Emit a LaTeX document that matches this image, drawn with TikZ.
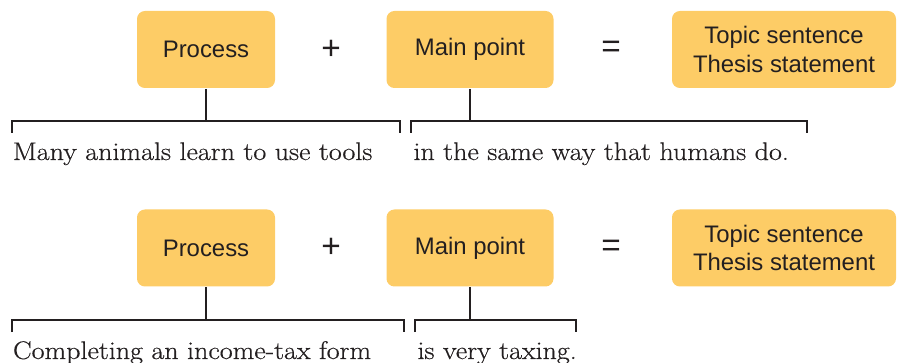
\documentclass[tikz,border=0pt]{standalone}
\usepackage{fontspec}
\setmainfont{Latin Modern Roman}[FakeStretch=1.10,FakeBold=0.5]
\setsansfont{Liberation Sans}
\usepackage{xcolor}
\usetikzlibrary{positioning}
\definecolor{boxfill}{RGB}{253,204,102}
\definecolor{ink}{RGB}{35,31,32}
\begin{document}
\begin{tikzpicture}[line width=1.1pt,draw=ink,
  block/.style={fill=boxfill,rounded corners=4.5pt,minimum height=1.54cm,inner sep=0pt,
    align=center,text=ink,font=\sffamily\fontsize{13.6}{16}\selectfont},
  sign/.style={text=ink,font=\sffamily\fontsize{19}{20}\selectfont},
  sent/.style={anchor=base west,inner sep=0pt,text=ink,font=\fontsize{14.5}{16}\selectfont}]
  \useasboundingbox (0,0) rectangle (18,7.24);
  \foreach \n/\y/\yb/\xa/\xb/\xc/\xd/\la/\lb in {
      1/6.25/4.82/0.24/8.00/8.22/16.14/{Many animals learn to use tools}/{in the same way that humans do.},
      2/2.28/0.84/0.24/8.08/8.30/11.52/{Completing an income-tax form}/{is very taxing.}} {
    % Boxes and signs
    \node[block,minimum width=2.76cm] (proc\n) at (4.12,\y) {Process};
    \node[block,minimum width=3.34cm] (main\n) at (9.40,\y) {Main point};
    \node[block,minimum width=4.48cm] (topic\n) at (15.68,\y) {Topic sentence\\Thesis statement};
    \node[sign] (plus\n) at (6.62,\y) {+};
    \node[sign] (eq\n) at (12.22,\y) {=};
    % Brackets under the sentence
    \coordinate (pa\n) at (\xa,\yb);
    \coordinate (pb\n) at (\xb,\yb);
    \coordinate (ma\n) at (\xc,\yb);
    \coordinate (mb\n) at (\xd,\yb);
    \draw ([yshift=-0.24cm]pa\n) -- (pa\n) -- (pb\n) -- ([yshift=-0.24cm]pb\n);
    \draw ([yshift=-0.24cm]ma\n) -- (ma\n) -- (mb\n) -- ([yshift=-0.24cm]mb\n);
    \draw (proc\n.south) -- (proc\n.south |- pa\n);
    \draw (main\n.south) -- (main\n.south |- ma\n);
    % Sentence
    \node[sent] (sa\n) at (\xa,\yb-0.78) {\la};
    \node[sent] (sb\n) at (\xc+0.03,\yb-0.78) {\lb};
  }
\end{tikzpicture}
\end{document}
